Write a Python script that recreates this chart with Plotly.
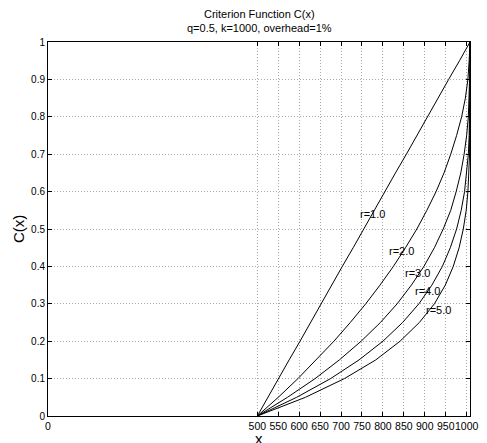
import plotly.graph_objects as go

c_levels = [0.0, 0.05, 0.1, 0.15, 0.2, 0.25, 0.3, 0.35, 0.4, 0.45, 0.5,
            0.55, 0.6, 0.65, 0.7, 0.75, 0.8, 0.85, 0.9, 0.95, 1.0]

x_r1 = [500, 525, 551, 576, 602, 627, 652, 678, 703, 729, 754,
        779, 805, 830, 856, 881, 906, 932, 957, 983, 1008]
x_r2 = [500, 550, 597, 641, 683, 722, 759, 793, 825, 854, 881,
        905, 927, 946, 962, 976, 988, 997, 1003, 1006, 1008]
x_r3 = [500, 572, 638, 696, 748, 794, 834, 868, 898, 923, 944,
        962, 975, 986, 994, 1000, 1004, 1006, 1007, 1008, 1008]
x_r4 = [500, 594, 675, 743, 800, 847, 886, 917, 942, 961, 976,
        987, 995, 1000, 1004, 1006, 1007, 1008, 1008, 1008, 1008]
x_r5 = [500, 615, 708, 783, 841, 887, 923, 949, 968, 982, 992,
        999, 1003, 1005, 1007, 1007, 1008, 1008, 1008, 1008, 1008]

series = [x_r1, x_r2, x_r3, x_r4, x_r5]

label_texts = ["r=1.0", "r=2.0", "r=3.0", "r=4.0", "r=5.0"]
label_x = [741, 810, 849, 871, 898]
label_y = [0.539, 0.441, 0.382, 0.334, 0.284]

x_tickvals = [0, 500, 550, 600, 650, 700, 750, 800, 850, 900, 950, 1000]
x_ticktext = ["0", "500", "550", "600", "650", "700", "750", "800", "850", "900", "950", "1000"]
y_tickvals = [0, 0.1, 0.2, 0.3, 0.4, 0.5, 0.6, 0.7, 0.8, 0.9, 1.0]
y_ticktext = ["0", "0.1", "0.2", "0.3", "0.4", "0.5", "0.6", "0.7", "0.8", "0.9", "1"]

FONT = "Arial, Liberation Sans, Helvetica, sans-serif"

fig = go.Figure()
for xs in series:
    fig.add_trace(go.Scatter(x=xs, y=c_levels, mode="lines",
                             line=dict(color="black", width=1),
                             showlegend=False, hoverinfo="skip"))

for t, lx, ly in zip(label_texts, label_x, label_y):
    fig.add_annotation(x=lx, y=ly, text=t, showarrow=False, xanchor="left",
                       yanchor="middle", font=dict(family=FONT, size=11, color="black"))

# titles
fig.add_annotation(x=0.5, y=1, xref="paper", yref="paper", yshift=6,
                   text="Criterion Function C(x)<br>q=0.5, k=1000, overhead=1%",
                   showarrow=False, xanchor="center", yanchor="bottom",
                   font=dict(family=FONT, size=11, color="black"))
fig.add_annotation(x=0.5, y=0, xref="paper", yref="paper", yshift=-22,
                   text="x", showarrow=False, xanchor="center", yanchor="middle",
                   font=dict(family=FONT, size=15, color="black"))
fig.add_annotation(x=0, y=0.5, xref="paper", yref="paper", xshift=-30,
                   text="C(x)", showarrow=False, textangle=-90,
                   xanchor="center", yanchor="middle",
                   font=dict(family=FONT, size=15, color="black"))

axis_common = dict(
    showline=True, linecolor="black", linewidth=1, mirror="allticks",
    ticks="inside", ticklen=4, tickcolor="black", tickwidth=1,
    showgrid=True, gridcolor="#a8a8a8", griddash="1px,2px", gridwidth=1,
    zeroline=False, tickangle=0,
)

fig.update_xaxes(range=[0, 1008], tickvals=x_tickvals, ticktext=x_ticktext,
                 tickfont=dict(family=FONT, size=10.5, color="black"), **axis_common)
fig.update_yaxes(range=[0, 1], tickvals=y_tickvals, ticktext=y_ticktext,
                 tickfont=dict(family=FONT, size=10, color="black"), **axis_common)

# page body has an 8px margin, so the figure is 8px smaller than the window
fig.update_layout(
    width=479, height=435,
    margin=dict(l=40, r=9, t=34, b=27),
    plot_bgcolor="white", paper_bgcolor="white",
)

fig.write_html("out.html")
